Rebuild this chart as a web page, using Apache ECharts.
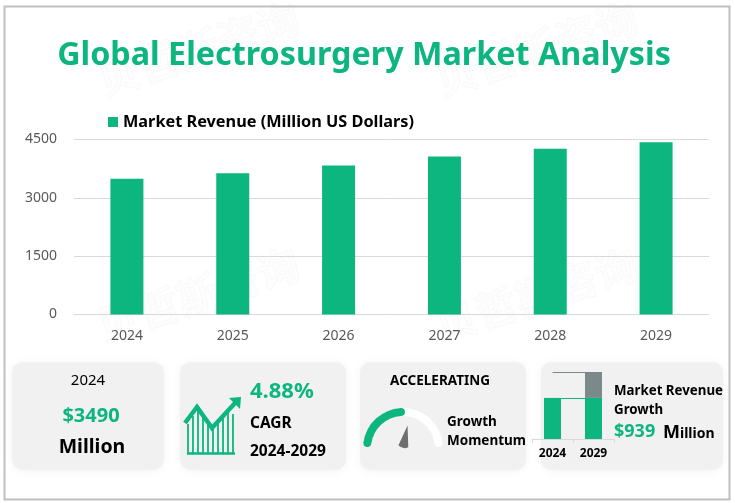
<!DOCTYPE html>
<html>
<head>
<meta charset="utf-8">
<style>
html, body { margin: 0; padding: 0; background: #fff; }
#grafico { width: 735px; height: 503px; }
</style>
<script src="https://cdn.jsdelivr.net/npm/echarts@6/dist/echarts.min.js"></script>
</head>
<body>
<div id="grafico"></div>
<script>
// Datos
var years = ['2024', '2025', '2026', '2027', '2028', '2029'];
var revenue = [3490, 3630, 3830, 4060, 4265, 4429];
var growthYears = ['2024', '2029'];
var growthBase = [3490, 3490];
var growthAdded = [0, 939];
var momentumValue = [48];
var needleValue = [57];

var verde = '#0DB57F';
var gris = '#7A8A8B';
var fuente = '"Noto Sans", "Open Sans", sans-serif';

function texto(x, y, str, size, color, weight, align) {
    return {
        type: 'text', x: x, y: y, z: 5,
        style: {
            text: str, fontSize: size, fill: color, fontWeight: weight || 'normal',
            fontFamily: fuente, align: align || 'left', verticalAlign: 'middle'
        }
    };
}

function tarjeta(x, y, w, h) {
    return {
        type: 'rect', z: 1,
        shape: { x: x, y: y, width: w, height: h, r: 11 },
        style: { fill: '#F1F1F1', shadowBlur: 10, shadowColor: 'rgba(0,0,0,0.05)', shadowOffsetY: 1 }
    };
}

// Marca de agua, solo contorno y muy tenue
function marcaAgua(x, y) {
    return {
        type: 'text', x: x, y: y, rotation: 0.32, z: 0,
        style: {
            text: '贝哲斯咨询', fontSize: 42, fill: 'rgba(0,0,0,0.006)',
            stroke: 'rgba(0,0,0,0.028)', lineWidth: 1,
            fontFamily: '"Noto Sans CJK SC"', fontWeight: 'bold'
        }
    };
}

// Icono CAGR
var iconoCagr = [];
[188, 193, 198, 203, 208, 213, 218, 223, 228, 233].forEach(function (x, i) {
    var tope = [424, 416, 410, 414, 421, 428, 424, 418, 412, 414][i];
    iconoCagr.push({
        type: 'line', z: 3,
        shape: { x1: x, y1: tope, x2: x, y2: 453 },
        style: { stroke: verde, lineWidth: 1.8 }
    });
});
iconoCagr.push({
    type: 'line', z: 3,
    shape: { x1: 187, y1: 453.5, x2: 235, y2: 453.5 },
    style: { stroke: verde, lineWidth: 2.5 }
});
iconoCagr.push({
    type: 'polyline', z: 4,
    shape: { points: [[185, 423], [197, 407], [212, 428], [236, 402]] },
    style: { stroke: verde, lineWidth: 4.5, fill: null }
});
iconoCagr.push({
    type: 'polygon', z: 4,
    shape: { points: [[229, 398], [241, 397], [240, 409]] },
    style: { fill: verde }
});

var grafico = echarts.init(document.getElementById('grafico'), null, { renderer: 'canvas' });

grafico.setOption({
    animation: false,
    backgroundColor: '#fff',
    textStyle: { fontFamily: fuente },
    legend: {
        left: 103, top: 109, itemWidth: 10, itemHeight: 10, icon: 'rect', itemGap: 4,
        textStyle: { fontSize: 16.3, fontWeight: 'bold', color: '#000', fontFamily: fuente },
        data: ['Market Revenue (Million US Dollars)']
    },
    grid: [
        { left: 74, right: 26, top: 139.5, height: 175 },
        { left: 532, width: 82, top: 372, height: 67 }
    ],
    xAxis: [
        {
            type: 'category', data: years, gridIndex: 0,
            axisLine: { lineStyle: { color: '#D9D9D9' } }, axisTick: { show: false },
            axisLabel: { fontSize: 14, color: '#595959', margin: 15 }
        },
        {
            type: 'category', data: growthYears, gridIndex: 1, z: 3,
            axisLine: { lineStyle: { color: '#D9D9D9' } },
            axisTick: { show: true, length: 4, lineStyle: { color: '#D9D9D9' } },
            axisLabel: { fontSize: 12, fontWeight: 'bold', color: '#000', margin: 9 }
        }
    ],
    yAxis: [
        {
            type: 'value', gridIndex: 0, min: 0, max: 4500, interval: 1500,
            axisLine: { show: false }, axisTick: { show: false },
            splitLine: { lineStyle: { color: '#D9D9D9' } },
            axisLabel: {
                fontSize: 14, color: '#595959', margin: 17,
                formatter: function (valor) { return String(valor); }
            }
        },
        { type: 'value', gridIndex: 1, min: 2000, max: 4429, show: false, splitLine: { show: false } }
    ],
    series: [
        {
            name: 'Market Revenue (Million US Dollars)', type: 'bar',
            data: revenue, barWidth: 33, itemStyle: { color: verde }, z: 3
        },
        {
            name: 'base', type: 'bar', xAxisIndex: 1, yAxisIndex: 1, stack: 'g',
            data: growthBase, barWidth: 17, itemStyle: { color: verde }, z: 4,
            markLine: {
                silent: true, symbol: 'none', label: { show: false },
                data: [
                    [{ coord: ['2024', growthBase[0]], lineStyle: { color: verde, width: 1, type: 'solid' } }, { coord: ['2029', growthBase[1]] }],
                    [{ coord: ['2024', growthBase[1] + growthAdded[1]], lineStyle: { color: gris, width: 1, type: 'solid' } }, { coord: ['2029', growthBase[1] + growthAdded[1]] }]
                ]
            }
        },
        {
            name: 'added', type: 'bar', xAxisIndex: 1, yAxisIndex: 1, stack: 'g',
            data: growthAdded, barWidth: 17, itemStyle: { color: gris }, z: 4
        },
        {
            type: 'gauge', center: [403, 448], radius: 40, startAngle: 172, endAngle: 8,
            min: 0, max: 100, z: 4,
            axisLine: { roundCap: true, lineStyle: { width: 8, color: [[1, '#fff']] } },
            progress: { show: true, roundCap: true, width: 8, itemStyle: { color: verde } },
            axisTick: { show: false }, splitLine: { show: false }, axisLabel: { show: false },
            pointer: { show: false }, detail: { show: false }, title: { show: false },
            data: momentumValue
        },
        {
            type: 'gauge', center: [403, 448], radius: 40, startAngle: 172, endAngle: 8,
            min: 0, max: 100, z: 5,
            axisLine: { show: false }, progress: { show: false },
            axisTick: { show: false }, splitLine: { show: false }, axisLabel: { show: false },
            pointer: {
                icon: 'path://M5 0 L10 92 Q5 108 0 92 Z',
                length: 23, width: 10, offsetCenter: [0, 0],
                itemStyle: { color: '#6E6E6E' }
            },
            anchor: { show: false }, detail: { show: false }, title: { show: false },
            data: needleValue
        }
    ],
    graphic: [
        marcaAgua(92, 62), marcaAgua(430, 62), marcaAgua(92, 308), marcaAgua(430, 308),
        {
            type: 'rect', z: 0,
            shape: { x: 4.5, y: 6.5, width: 725, height: 493 },
            style: { fill: null, stroke: '#BFBFBF', lineWidth: 2 }
        },
        tarjeta(12, 362, 152, 108),
        tarjeta(180, 362, 166, 108),
        tarjeta(360, 362, 166, 108),
        tarjeta(541, 362, 182, 108),
        texto(364, 56, 'Global Electrosurgery Market Analysis', 32.3, verde, 'bold', 'center'),
        texto(88, 381, '2024', 15, '#000', 'normal', 'center'),
        texto(91, 416, '$3490', 20, verde, 'bold', 'center'),
        texto(92, 447, 'Million', 19.5, '#000', 'bold', 'center'),
        texto(250, 392, '4.88%', 22, verde, 'bold'),
        texto(250, 424, 'CAGR', 15.5, '#000', 'bold'),
        texto(250, 452, '2024-2029', 15.5, '#000', 'bold'),
        texto(440, 381, 'ACCELERATING', 13.5, '#000', 'bold', 'center'),
        texto(447, 422, 'Growth', 13.5, '#000', 'bold'),
        texto(447, 441, 'Momentum', 13.5, '#000', 'bold'),
        texto(614, 391, 'Market Revenue', 13.3, '#000', 'bold'),
        texto(614, 410, 'Growth', 13.3, '#000', 'bold'),
        texto(614, 432, '$939', 18, verde, 'bold'),
        texto(663, 433, 'M', 18, '#000', 'bold'),
        texto(680, 434, 'illion', 14, '#000', 'bold')
    ].concat(iconoCagr)
});
</script>
</body>
</html>
